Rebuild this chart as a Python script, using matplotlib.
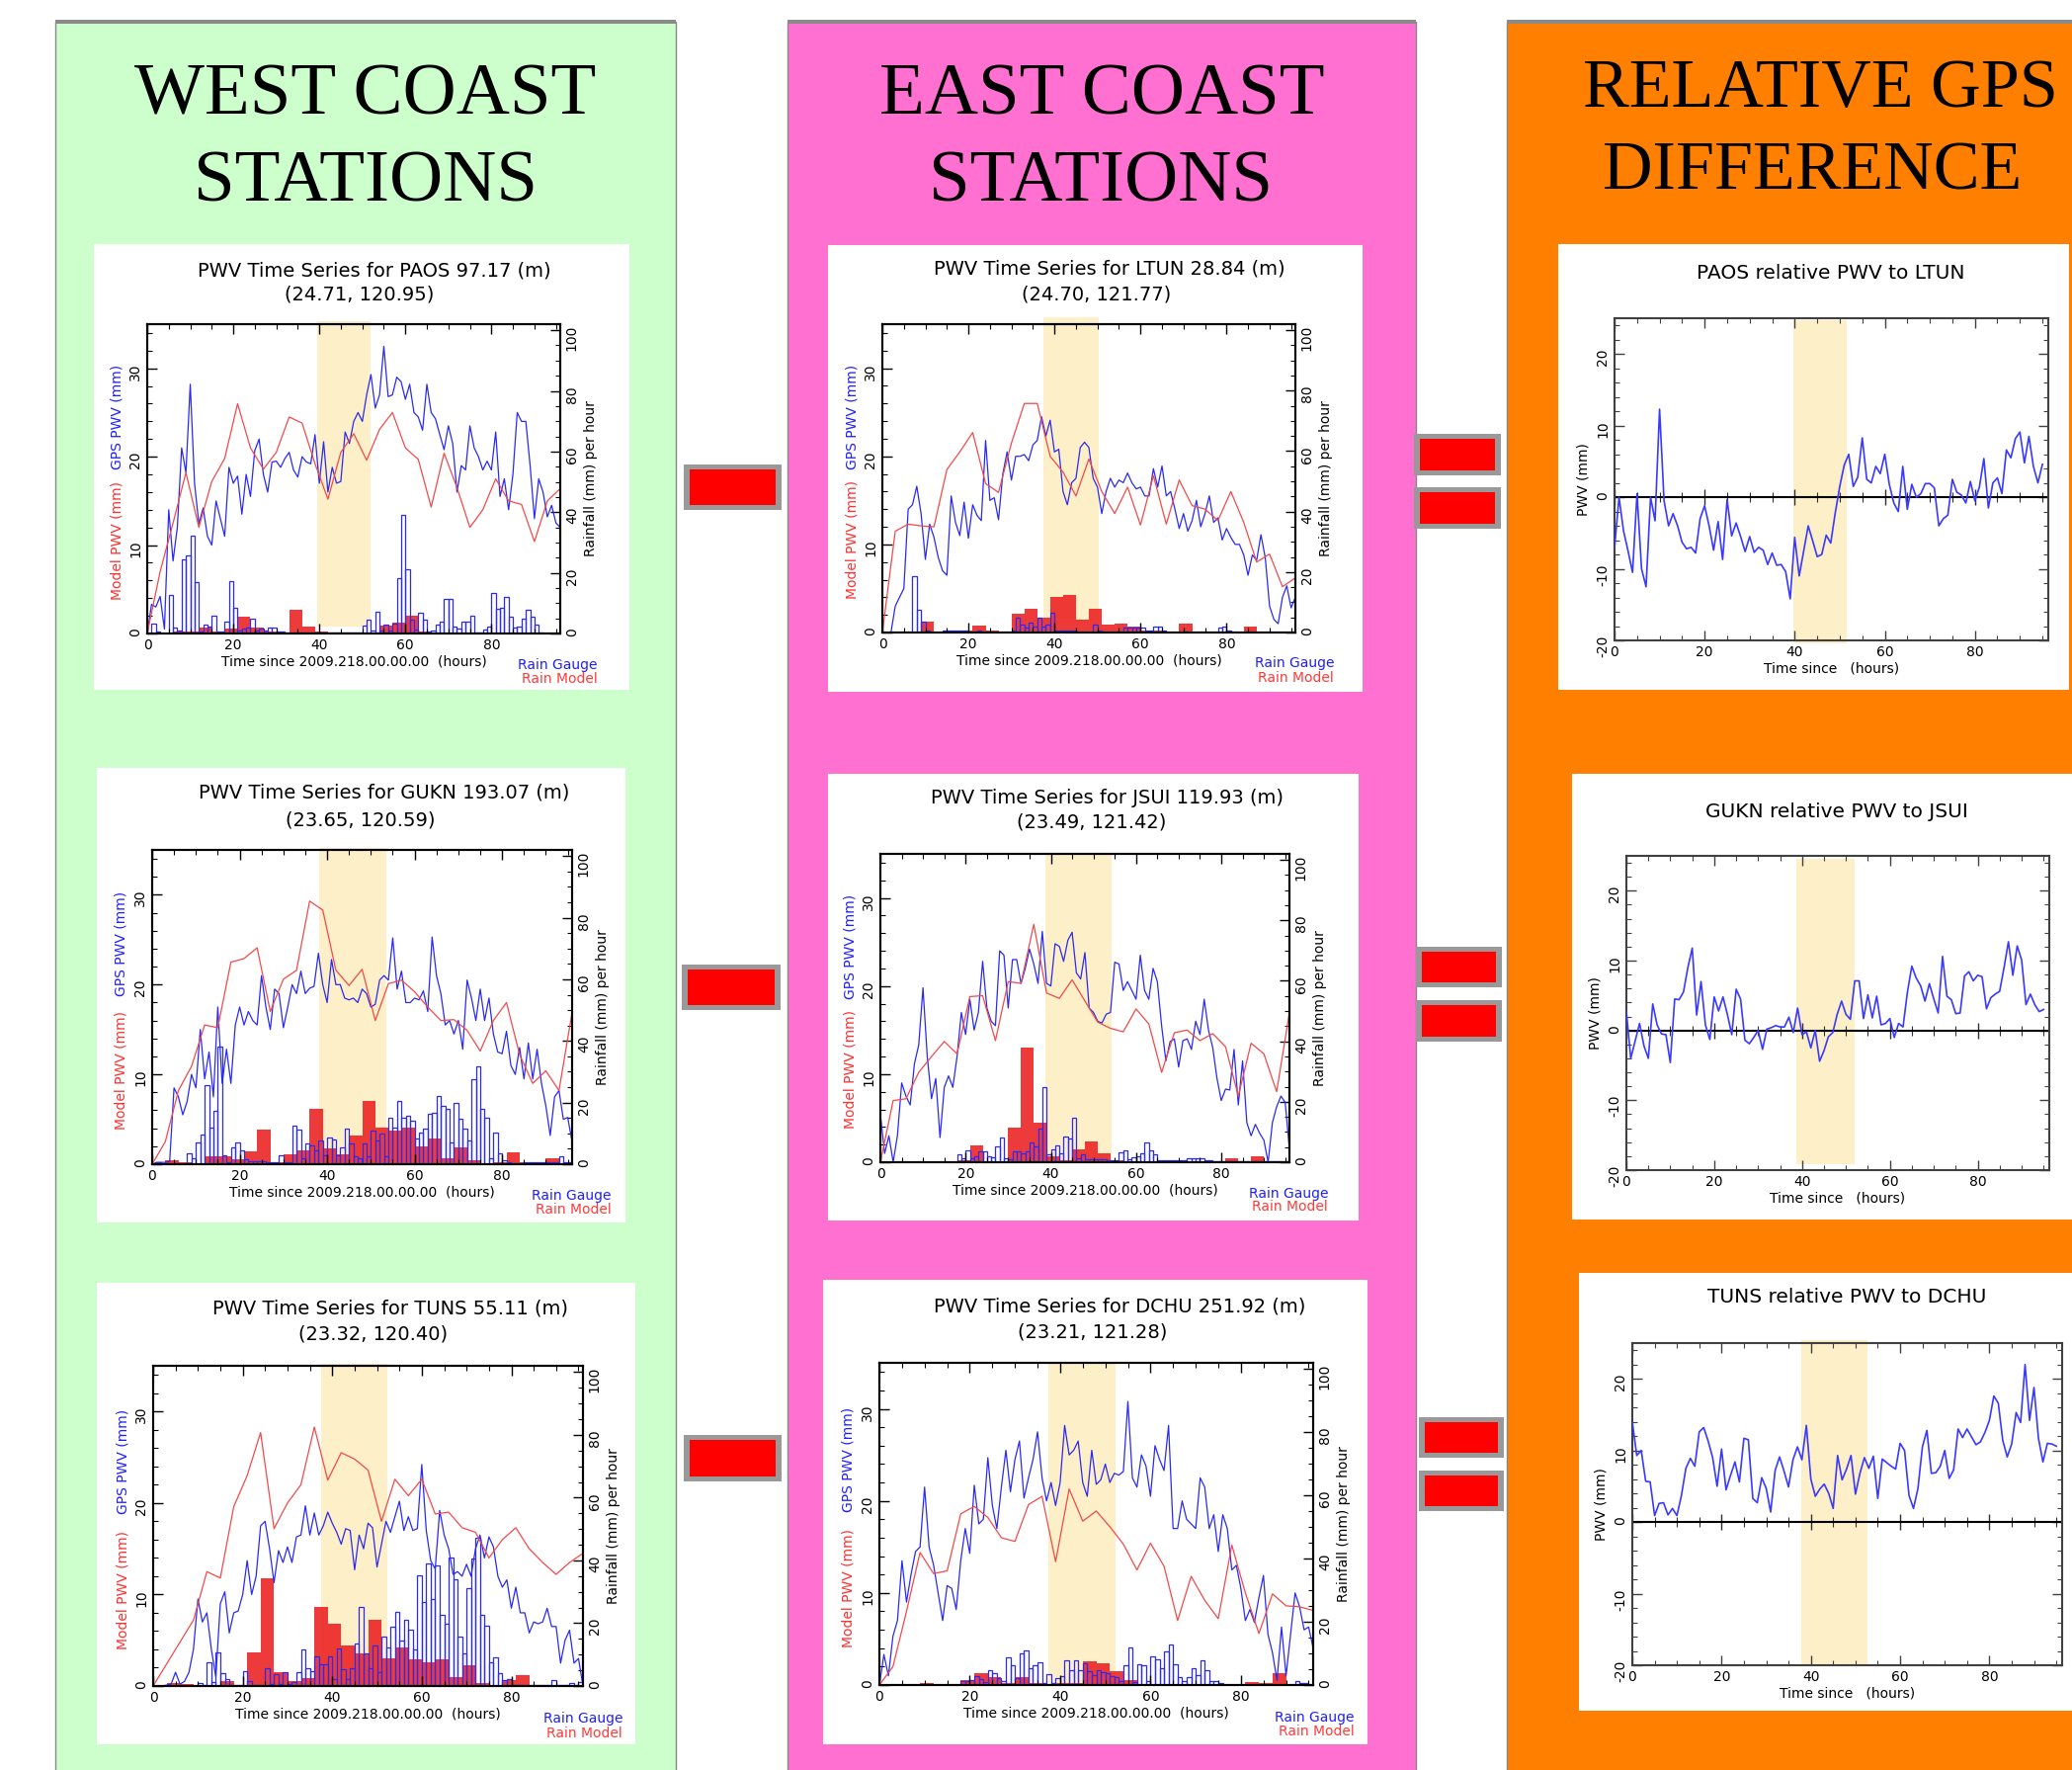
import numpy as np
import matplotlib
matplotlib.use("Agg")
import matplotlib.pyplot as plt
from matplotlib.patches import Rectangle
from matplotlib.ticker import MultipleLocator

plt.rcParams['axes.unicode_minus'] = False

W, H = 2097, 1791

# time axes (hours since 2009.218.00.00.00)
hours = np.arange(97)
model_hours = np.arange(0, 97, 3)
gauge_hours = np.arange(96)
rmodel_hours = np.arange(0, 96, 3)
rel_hours = np.arange(96)

# ---- PAOS ----
paos_gps = [0, 3.3, 3.0, 4.2, 0.5, 14.0, 8.2, 12.0, 21.0, 18.2,
            28.2, 17.0, 12.4, 14.2, 11.0, 10.0, 15.0, 13.0, 11.0, 18.8,
            17.0, 17.8, 13.5, 18.0, 15.5, 20.7, 22.0, 18.0, 16.0, 19.4,
            19.5, 18.8, 19.8, 20.5, 18.5, 17.7, 20.0, 19.4, 19.2, 22.5,
            17.0, 21.7, 16.0, 18.8, 17.0, 17.2, 22.8, 21.5, 24.0, 25.0,
            24.0, 27.0, 29.3, 25.5, 27.0, 32.5, 26.8, 27.0, 29.0, 28.5,
            26.5, 28.2, 25.0, 24.5, 23.0, 28.2, 25.0, 24.3, 22.5, 20.8,
            23.5, 21.5, 16.0, 19.0, 18.5, 23.5, 21.0, 20.0, 18.5, 19.5,
            18.5, 22.8, 15.5, 17.5, 14.0, 18.0, 25.0, 24.0, 24.0, 19.0,
            13.0, 17.5, 16.0, 13.2, 14.5, 12.5, 12.0]
paos_model = [0, 7.0, 12.5, 18.2, 12.0, 17.2, 19.8, 26.0, 21.0, 18.6, 20.5,
              24.5, 23.8, 19.2, 15.2, 20.5, 22.6, 19.6, 23.1, 25.0, 21.0, 19.7,
              14.3, 20.4, 16.5, 12.0, 14.0, 17.5, 15.0, 14.6, 10.4, 15.0, 16.4]
paos_gauge = [0, 3.3, 0.5, 0, 0, 12.8, 1.9, 1.0, 24.4, 25.8,
              32.4, 16.8, 0.5, 3.0, 2.4, 5.9, 0.5, 0.8, 4.0, 17.4,
              8.4, 1.0, 1.5, 2.0, 5.0, 1.0, 1.5, 1.0, 1.9, 1.9,
              0.5, 0.5, 0.3, 0, 0.2, 0.2, 0.2, 0.2, 0.2, 0.2,
              0.2, 0.2, 0.2, 0.2, 0.2, 0.2, 0.2, 0.2, 0.2, 0.2,
              2.6, 4.6, 1.0, 7.3, 1.0, 3.0, 1.0, 3.3, 18.2, 39.0,
              21.3, 4.6, 1.2, 6.8, 4.6, 0.5, 1.0, 3.0, 4.0, 11.3,
              11.5, 2.4, 1.5, 3.8, 4.0, 5.9, 0.3, 0.3, 1.3, 2.4,
              13.3, 8.0, 8.4, 12.2, 5.7, 2.0, 2.4, 4.8, 7.8, 5.4,
              3.0, 0.3, 0, 0, 0, 0]
paos_rmodel = [0, 0.3, 0.8, 0.8, 2.0, 0.8, 1.5, 5.4, 1.9, 0.5, 0.3, 7.8, 2.2, 0.7, 0.4, 0.4,
               0.4, 0.4, 2.6, 3.5, 5.9, 0.8, 0.2, 0.2, 0.2, 0.2, 0.2, 0.2, 0.2, 0.2, 0.2, 0.2]

# ---- GUKN ----
gukn_gps = [0, 0.2, 0.2, 0.2, 0.3, 8.5, 7.5, 5.5, 7.0, 10.0,
            8.5, 15.0, 9.5, 12.5, 7.5, 17.5, 9.0, 12.8, 9.0, 15.5,
            17.5, 15.5, 17.0, 16.0, 15.5, 21.0, 17.5, 15.0, 19.5, 19.0,
            15.2, 17.5, 20.0, 19.0, 21.5, 19.0, 19.6, 19.8, 23.5, 20.0,
            18.0, 22.8, 20.0, 20.0, 18.5, 18.3, 18.5, 18.0, 19.5, 19.0,
            17.5, 17.8, 20.5, 21.0, 20.5, 25.2, 19.5, 21.5, 18.0, 18.0,
            18.5, 18.3, 19.3, 17.0, 25.3, 21.0, 19.0, 15.5, 16.0, 14.5,
            16.0, 12.8, 20.5, 18.5, 16.0, 19.5, 16.0, 18.5, 14.5, 12.5,
            12.3, 14.8, 11.0, 10.0, 13.0, 9.5, 13.5, 9.5, 12.8, 9.0,
            6.5, 3.2, 7.5, 8.2, 5.0, 5.2, 2.5]
gukn_model = [0, 2.5, 8.2, 10.9, 15.5, 15.2, 22.5, 22.9, 24.1, 17.0, 20.6,
              21.6, 29.3, 28.3, 21.6, 19.9, 21.7, 16.0, 20.1, 20.5, 19.2, 17.5,
              16.0, 16.1, 14.9, 12.6, 16.0, 18.0, 12.2, 9.0, 10.4, 8.2, 16.9]
gukn_gauge = [0, 0.5, 0, 0, 0, 0.3, 0, 0, 3.5, 1.9,
              7.2, 9.6, 25.7, 12.0, 17.4, 38.2, 3.0, 0.5, 5.6, 7.2,
              4.6, 1.5, 1.0, 1.0, 1.0, 1.0, 0.5, 0.5, 0.5, 3.0,
              0.5, 0.5, 12.4, 11.3, 2.0, 6.7, 6.2, 4.6, 7.8, 3.0,
              8.6, 8.1, 3.0, 5.6, 11.5, 6.7, 2.5, 2.0, 6.7, 2.5,
              11.0, 7.8, 9.9, 2.5, 15.0, 12.0, 20.6, 15.0, 15.8, 14.2,
              8.3, 10.4, 11.5, 16.5, 16.8, 22.0, 19.0, 17.9, 7.2, 20.0,
              14.7, 11.5, 7.8, 27.5, 31.8, 17.9, 15.0, 2.0, 10.2, 3.5,
              1.4, 0.5, 0.3, 0.3, 0.3, 0.5, 0.5, 0.5, 0.5, 0.5,
              0.5, 0.5, 0.5, 2.7, 0.5, 0.5]
gukn_rmodel = [0, 1.2, 0.5, 0.3, 2.5, 2.7, 1.5, 4.3, 11.2, 0.8, 3.2, 4.6, 17.9, 5.1, 3.2, 9.2,
               20.6, 12.0, 11.0, 11.8, 5.9, 8.2, 1.9, 5.4, 1.2, 0.3, 0.5, 3.8, 0.6, 0.3, 1.8, 0.3]

# ---- TUNS ----
tuns_gps = [0, 0, 0, 0.1, 0.2, 1.5, 0.2, 0.5, 1.5, 4.0,
            9.5, 7.0, 8.0, 4.0, 1.0, 9.0, 10.3, 5.8, 8.0, 8.2,
            10.0, 13.7, 10.0, 12.0, 17.5, 18.0, 15.0, 11.3, 14.8, 13.5,
            15.2, 13.5, 16.3, 16.5, 19.7, 16.5, 18.9, 16.5, 17.5, 19.0,
            17.8, 16.8, 15.5, 17.2, 17.0, 12.7, 16.5, 15.0, 17.8, 17.3,
            13.0, 15.5, 18.0, 16.8, 18.5, 20.2, 17.0, 18.5, 17.0, 17.2,
            24.2, 17.0, 13.7, 12.8, 19.2, 16.5, 15.0, 12.2, 12.5, 12.0,
            13.3, 12.0, 15.0, 16.5, 14.0, 16.3, 15.2, 12.0, 10.8, 11.6,
            8.5, 10.8, 8.0, 8.0, 5.8, 7.0, 6.8, 7.0, 8.5, 6.5,
            6.5, 2.5, 5.0, 6.1, 2.5, 3.0, 0.0]
tuns_model = [0, 2.4, 4.8, 7.2, 12.5, 11.8, 19.6, 23.0, 27.7, 17.2, 20.0,
              22.0, 28.3, 22.5, 25.5, 24.8, 23.6, 18.0, 22.6, 20.8, 22.6, 18.8,
              19.0, 17.3, 16.8, 14.0, 16.0, 17.3, 15.0, 13.5, 12.2, 13.5, 14.5]
tuns_gauge = [0, 0, 0, 0, 0, 0, 0, 0, 0, 0,
              1.0, 0.3, 7.4, 1.2, 10.6, 4.1, 2.3, 0.3, 0.2, 0.2,
              4.8, 1.7, 0.3, 0.3, 0.3, 5.8, 0.5, 3.8, 0.5, 4.5,
              0.5, 1.4, 4.5, 11.7, 5.8, 4.8, 9.4, 6.9, 6.9, 9.4,
              2.3, 12.0, 5.3, 2.3, 5.8, 13.5, 25.3, 10.4, 5.8, 13.0,
              4.3, 15.8, 12.3, 18.8, 23.5, 14.5, 21.2, 18.1, 11.5, 35.2,
              26.8, 39.1, 27.6, 38.3, 22.7, 19.7, 40.9, 34.0, 15.8, 10.4,
              31.1, 40.6, 47.3, 22.7, 19.1, 7.4, 9.2, 4.1, 2.0, 2.3,
              0.3, 0.2, 0.2, 0.2, 0.2, 0.2, 0.2, 0.2, 0.2, 2.0,
              0.2, 0.2, 0.2, 1.0, 0.2, 1.2]
tuns_rmodel = [0, 1.0, 0.7, 0.2, 0.2, 1.6, 0.2, 10.7, 34.2, 4.3, 1.7, 2.4, 25.3, 19.7, 13.0, 10.4,
               21.2, 8.9, 12.3, 8.6, 7.7, 8.4, 2.8, 6.6, 1.0, 0.3, 2.0, 3.6, 0.3, 0.1, 0.3, 0.3]

# ---- LTUN ----
ltun_gps = [0, 0, 0, 3.0, 4.0, 5.0, 14.0, 14.5, 16.6, 13.5,
            8.3, 12.3, 10.8, 8.5, 7.0, 6.5, 15.5, 12.5, 11.0, 14.8,
            10.7, 14.5, 13.3, 12.7, 21.8, 15.0, 15.3, 12.8, 18.0, 20.5,
            17.3, 20.0, 20.0, 20.2, 19.5, 21.3, 21.8, 24.5, 22.3, 24.1,
            20.5, 20.8, 16.0, 14.5, 17.0, 17.5, 21.0, 21.6, 21.0, 17.5,
            16.5, 13.5, 16.0, 17.5, 16.5, 17.3, 17.0, 18.1, 17.0, 16.3,
            16.5, 15.5, 15.5, 18.6, 16.5, 18.9, 15.5, 16.0, 14.0, 11.8,
            13.5, 11.5, 12.7, 15.0, 12.0, 13.5, 15.5, 12.5, 13.0, 10.5,
            11.8, 10.8, 10.0, 10.0, 8.8, 6.5, 8.8, 8.2, 11.1, 8.5,
            3.0, 1.5, 1.0, 4.0, 5.3, 2.8, 4.0]
ltun_model = [0, 11.5, 12.3, 12.1, 12.0, 18.5, 20.5, 22.7, 16.9, 15.9, 21.5,
              26.0, 26.0, 20.0, 18.2, 15.5, 19.7, 16.0, 13.5, 16.5, 12.2, 17.8,
              12.3, 17.3, 14.4, 14.0, 12.7, 16.0, 12.5, 8.0, 8.9, 5.2, 6.2]
ltun_gauge = [0, 0, 0, 0, 0, 0, 0, 18.7, 7.5, 3.75,
              0.7, 0, 0, 0, 0.5, 0.5, 0.5, 0.5, 0.5, 0.5,
              0, 0, 0.7, 0, 0, 0, 0, 0, 0, 0,
              0.5, 4.8, 2.7, 1.6, 3.2, 2.1, 4.8, 2.1, 2.7, 6.6,
              0.5, 0.5, 0.5, 0.5, 0.5, 0, 0, 0, 0, 2.5,
              0.5, 0, 0, 0, 0, 0, 1.5, 1.5, 1.5, 1.5,
              1.5, 0.5, 0.5, 1.8, 2.1, 0.5, 0, 0, 0, 0,
              0, 0, 0, 0, 0, 0, 0, 0, 1.6, 2.1,
              0.5, 0, 0, 0, 0, 0, 0, 0, 0, 0,
              0, 0, 0, 0, 0, 0]
ltun_rmodel = [0, 0.1, 0.2, 3.75, 0.3, 0.6, 0.8, 2.4, 0.6, 0.3, 6.1, 7.7, 4.8, 11.8, 12.3, 4.3,
               7.8, 2.6, 3.1, 1.8, 0.8, 0.8, 0.4, 2.9, 0.3, 0.3, 0.3, 0.4, 1.9, 0.2, 0.2, 0.2]

# ---- JSUI ----
jsui_gps = [5.4, 1.0, 3.0, 0.0, 3.0, 9.0, 7.5, 6.5, 11.2, 13.3,
            19.8, 12.0, 7.2, 9.5, 2.8, 8.5, 9.8, 8.5, 12.0, 17.0,
            14.5, 18.5, 15.0, 17.0, 22.8, 17.5, 16.0, 15.5, 24.0, 23.5,
            17.5, 23.0, 23.0, 20.3, 22.0, 24.2, 22.5, 20.3, 26.2, 20.3,
            20.0, 24.8, 24.5, 22.8, 25.2, 26.1, 21.5, 20.8, 23.8, 17.5,
            17.0, 16.0, 15.8, 16.8, 17.0, 22.7, 22.5, 19.5, 20.5, 19.5,
            18.5, 23.5, 19.5, 18.5, 22.0, 20.5, 15.5, 11.5, 13.7, 14.0,
            10.8, 13.8, 14.0, 12.8, 16.0, 14.5, 18.5, 15.0, 13.0, 9.5,
            7.0, 8.3, 8.2, 12.8, 6.5, 11.5, 4.5, 3.0, 4.3, 3.3,
            2.5, 0.0, 4.5, 6.3, 7.5, 6.8, 1.5]
jsui_model = [0, 7.0, 7.2, 10.2, 12.0, 13.7, 12.3, 18.8, 18.9, 13.8, 20.5,
              20.3, 27.0, 19.2, 18.6, 20.7, 18.3, 15.9, 15.2, 14.8, 17.4, 15.7,
              10.2, 14.7, 15.0, 13.8, 14.6, 13.1, 7.5, 13.5, 12.3, 8.0, 17.0]
jsui_gauge = [0, 0, 0, 0, 0, 0, 0, 0, 0, 0,
              0, 0, 0, 0, 0, 0, 0, 0, 2.5, 1.4,
              4.0, 1.4, 2.0, 3.5, 3.5, 2.0, 1.7, 5.1, 8.3, 1.4,
              0.9, 3.5, 3.5, 3.0, 3.7, 6.7, 5.1, 11.2, 24.9, 2.5,
              4.1, 5.7, 3.0, 8.5, 7.8, 14.7, 1.4, 2.5, 1.0, 1.0,
              1.0, 1.0, 1.0, 0.5, 0.5, 0.5, 3.2, 3.8, 0.9, 1.7,
              2.1, 3.0, 6.4, 4.0, 2.5, 0.8, 0.8, 0.8, 0.8, 0.8,
              0.8, 0.8, 1.2, 1.2, 1.2, 1.2, 0.8, 0.8, 0.3, 0.3,
              0.3, 0.3, 0.3, 0.3, 0.3, 0.3, 0.3, 0.3, 0.3, 0.3,
              0.3, 0.3, 0.3, 0.3, 0.3, 0.3]
jsui_rmodel = [0.3, 0.2, 0.1, 0.1, 0.1, 0.1, 0.5, 5.6, 0.3, 0.3, 11.4, 38.0, 13.1, 1.8, 0.5, 4.3,
               7.0, 2.8, 0.8, 0.3, 0.3, 0.3, 0.3, 0.3, 0.3, 0.3, 0.3, 1.3, 0.3, 1.8, 0.3, 0.3]

# ---- DCHU ----
dchu_gps = [0, 3.3, 1.0, 5.3, 7.0, 13.5, 9.0, 12.0, 14.5, 15.0,
            21.5, 15.0, 13.0, 10.0, 7.0, 10.8, 10.5, 8.2, 13.5, 17.0,
            14.3, 21.7, 17.5, 18.0, 24.7, 19.5, 17.0, 21.5, 25.5, 21.0,
            24.5, 26.5, 20.3, 22.5, 24.5, 27.5, 22.5, 20.0, 22.0, 19.5,
            22.0, 28.2, 25.0, 25.5, 26.5, 22.0, 20.5, 25.5, 21.8, 22.3,
            24.0, 22.0, 23.0, 22.8, 23.2, 30.8, 22.5, 21.5, 25.0, 23.8,
            20.5, 26.0, 24.5, 23.3, 28.2, 17.0, 17.0, 20.0, 18.0, 17.5,
            17.0, 22.5, 21.5, 17.0, 18.5, 14.5, 18.5, 17.0, 12.5, 13.0,
            10.5, 7.0, 8.2, 6.8, 9.5, 11.9, 5.5, 3.5, 0.5, 6.3,
            1.0, 5.5, 10.0, 8.5, 6.0, 6.3, 4.0]
dchu_model = [0, 2.0, 8.0, 14.4, 12.1, 12.4, 18.6, 19.4, 18.2, 16.0, 15.6,
              19.6, 20.5, 13.4, 21.3, 17.8, 18.9, 17.2, 15.3, 12.5, 15.4, 12.9,
              7.0, 11.8, 9.2, 7.2, 15.2, 10.0, 5.6, 9.9, 8.6, 8.5, 8.1]
dchu_gauge = [0, 0, 0, 0, 0, 0, 0, 0, 0, 0,
              0, 0, 0, 0, 0, 0, 0, 0, 1.1, 1.4,
              1.6, 2.9, 1.9, 0.8, 4.8, 3.8, 2.2, 1.4, 8.8, 6.4,
              2.2, 10.0, 11.0, 5.3, 6.4, 7.1, 0.6, 3.5, 0.6, 2.3,
              2.7, 7.7, 4.8, 7.7, 4.8, 6.9, 4.5, 3.2, 4.8, 4.0,
              3.8, 2.9, 2.5, 1.4, 6.4, 11.8, 0.8, 6.6, 6.4, 1.1,
              9.0, 8.2, 5.3, 10.6, 12.7, 6.6, 2.5, 1.4, 2.5, 5.3,
              3.2, 7.7, 4.8, 1.4, 1.4, 0.6, 0, 0, 0, 0,
              0, 0, 0, 0, 0, 0, 0, 0, 0, 0,
              0, 0, 1.1, 0.6, 0.6, 0]
dchu_rmodel = [0, 0, 0.1, 0.7, 0.3, 0.3, 1.5, 3.8, 2.4, 0.7, 2.5, 0.5, 0.3, 0.7, 0.5, 7.4,
               6.9, 4.4, 1.5, 0.3, 0.3, 0.3, 0.2, 0.2, 0.2, 0.2, 0.3, 1.0, 0.5, 3.6, 0.3, 0.3]

# ---- relative PWV (west minus east) ----
paos_ltun = [-7.1, 0.0, -4.7, -7.5, -10.5, 0.5, -10.0, -12.5, 0.0, -3.3,
             12.3, -0.5, -4.0, -2.3, -4.0, -6.3, -7.2, -7.0, -7.8, -3.0,
             -1.2, -4.0, -7.4, -3.4, -8.7, -0.3, -5.4, -3.6, -5.5, -7.6,
             -5.5, -7.7, -7.0, -7.4, -9.4, -7.8, -9.5, -9.4, -10.4, -14.2,
             -5.6, -11.0, -7.5, -4.0, -6.1, -8.3, -8.0, -5.3, -6.4, -2.2,
             1.5, 4.5, 6.0, 1.5, 2.8, 8.3, 2.5, 2.0, 4.3, 3.3,
             6.0, 1.8, -0.8, -2.0, 4.3, -1.7, 1.8, 0.0, 0.5, 1.9,
             1.9, 1.3, -4.0, -3.0, -2.5, 2.5, 0.7, 0.3, -0.8, 2.2,
             -0.5, 1.4, 5.4, -1.5, 2.0, 2.7, 0.5, 6.6, 5.5, 8.2,
             9.1, 4.8, 8.5, 4.3, 2.0, 4.6]
gukn_jsui = [2.7, -4.0, -1.5, 1.0, -2.2, -4.0, 3.8, 0.8, -0.5, -0.6,
             -4.6, 4.5, 4.4, 5.5, 9.0, 11.8, 2.2, 7.0, 0.8, -1.3,
             4.8, 2.8, 4.8, 2.3, -0.6, 5.9, 4.5, -1.4, -1.9, -1.0,
             0.0, -2.7, 0.2, 0.4, 0.7, 0.5, 0.5, 1.9, -0.3, 3.2,
             -0.6, -0.2, -2.5, 0.0, -4.4, -2.9, -0.9, -0.3, 2.3, 4.2,
             2.3, 1.6, 7.1, 7.1, 1.7, 5.1, 1.8, 4.9, 0.8, 1.0,
             1.7, -1.0, 1.0, 0.5, 5.5, 9.2, 7.5, 6.4, 4.2, 6.7,
             4.5, 2.5, 10.6, 4.9, 4.4, 2.4, 2.5, 7.8, 8.4, 7.1,
             7.9, 7.7, 3.1, 4.7, 5.2, 5.6, 9.0, 12.7, 7.9, 12.1,
             10.1, 3.7, 5.2, 3.7, 2.7, 3.0]
tuns_dchu = [14.0, 9.3, 10.0, 5.7, 5.6, 0.9, 2.6, 2.7, 1.0, 1.9,
             0.9, 3.7, 7.5, 8.9, 7.8, 12.6, 13.2, 11.3, 9.0, 5.0,
             10.2, 4.5, 6.5, 8.4, 5.6, 11.7, 11.5, 3.3, 2.7, 6.2,
             4.7, 1.4, 7.2, 9.1, 7.1, 4.9, 8.7, 10.5, 8.7, 13.5,
             6.0, 3.6, 4.6, 5.3, 4.0, 1.9, 9.3, 5.9, 7.4, 9.3,
             3.9, 6.8, 9.0, 7.5, 9.2, 3.3, 8.8, 8.3, 7.8, 7.4,
             11.0, 10.0, 3.7, 1.9, 4.7, 10.5, 12.8, 6.8, 6.9, 7.8,
             10.0, 6.1, 7.3, 13.0, 11.8, 13.0, 11.9, 10.8, 11.2, 12.5,
             14.2, 17.6, 16.6, 11.4, 9.1, 10.9, 15.3, 13.9, 22.0, 14.2,
             18.8, 11.7, 8.4, 11.0, 10.9, 10.6]

# highlighted event windows (hours)
paos_band, gukn_band, tuns_band = (39.4, 51.9), (38.1, 53.5), (37.6, 52.4)
ltun_band, jsui_band, dchu_band = (37.5, 50.2), (38.7, 54.3), (37.4, 52.2)
rel1_band, rel2_band, rel3_band = (39.6, 51.5), (38.6, 52.0), (37.8, 52.7)

BLUE = '#2a2af2'
RED = '#f24a4a'
BAR_RED = '#ec2424'
BAND = '#fdefc8'

fig = plt.figure(figsize=(W / 100, H / 100), dpi=100)


def fbox(x0, y0, x1, y1):
    return [x0 / W, 1 - y1 / H, (x1 - x0) / W, (y1 - y0) / H]


def rect(x0, y0, x1, y1, **kw):
    fig.add_artist(Rectangle((x0 / W, 1 - y1 / H), (x1 - x0) / W, (y1 - y0) / H,
                             transform=fig.transFigure, **kw))


def ftext(x, y, s, **kw):
    kw.setdefault('ha', 'center')
    kw.setdefault('va', 'baseline')
    fig.text(x / W, 1 - y / H, s, **kw)


# column backgrounds
for x0, x1, col in [(56, 684, '#ccffcc'), (797, 1433, '#ff70d0'), (1525, 2120, '#ff8000')]:
    rect(x0, 22, x1, 1820, facecolor=col, edgecolor='#888888', lw=1, zorder=-10)
    rect(x0, 20, x1, 24, facecolor='#8a8a8a', lw=0, zorder=-9)

serif = 'Liberation Serif'
ftext(370, 115, 'WEST COAST', family=serif, fontsize=54)
ftext(370, 203, 'STATIONS', family=serif, fontsize=54)
ftext(1115, 115, 'EAST COAST', family=serif, fontsize=54)
ftext(1114, 203, 'STATIONS', family=serif, fontsize=54)
ftext(1842, 108, 'RELATIVE GPS', family=serif, fontsize=50.5)
ftext(1834, 192, 'DIFFERENCE', family=serif, fontsize=50.5)

# white panel boxes
for b in [(95, 247, 637, 698), (98, 777, 633, 1237), (98, 1298, 643, 1765),
          (838, 248, 1379, 700), (838, 783, 1375, 1235), (833, 1295, 1384, 1765),
          (1577, 247, 2094, 698), (1591, 783, 2097, 1234), (1598, 1288, 2097, 1731)]:
    rect(*b, facecolor='white', lw=0, zorder=-8)

# red markers
for b in [(692, 470, 791, 516), (690, 976, 790, 1022), (692, 1452, 791, 1499),
          (1431, 439, 1519, 481), (1431, 493, 1519, 535),
          (1433, 958, 1520, 999), (1433, 1012, 1520, 1054),
          (1436, 1434, 1522, 1475), (1436, 1488, 1522, 1529)]:
    rect(*b, facecolor='#999999', lw=0, zorder=-7)
    rect(b[0] + 6, b[1] + 5, b[2] - 6, b[3] - 5, facecolor='#ff0000', lw=0, zorder=-6)


def station(axpx, gps, model, gauge, rmodel, band, bfrac, t1, t2, leg):
    ax = fig.add_axes(fbox(*axpx))
    ax2 = ax.twinx()
    ax.set_zorder(ax2.get_zorder() + 1)
    ax.patch.set_visible(False)
    ax2.axvspan(band[0], band[1], bfrac[0], bfrac[1], color=BAND, lw=0, zorder=0, clip_on=False)
    ax2.bar(rmodel_hours, rmodel, width=3, align='edge', color=BAR_RED, alpha=0.9, lw=0, zorder=1)
    ax2.bar(gauge_hours, gauge, width=1, align='edge', fill=False, edgecolor=BLUE, lw=0.9, zorder=2)
    ax.plot(hours, gps, color=BLUE, lw=0.9)
    ax.plot(model_hours, model, color=RED, lw=0.9)
    ax.set_xlim(0, 96)
    ax.set_ylim(0, 35)
    ax2.set_ylim(0, 102)
    ax.xaxis.set_major_locator(MultipleLocator(20))
    ax.xaxis.set_minor_locator(MultipleLocator(5))
    ax.yaxis.set_major_locator(MultipleLocator(10))
    ax.yaxis.set_minor_locator(MultipleLocator(2))
    ax2.yaxis.set_major_locator(MultipleLocator(20))
    ax2.yaxis.set_minor_locator(MultipleLocator(5))
    ax.tick_params(which='both', direction='in', top=True, labelsize=10)
    ax.tick_params(axis='y', labelrotation=90)
    ax2.tick_params(which='both', direction='in', labelsize=10, labelrotation=90)
    for a in (ax, ax2):
        a.tick_params(which='major', length=7, width=1)
        a.tick_params(which='minor', length=3.5, width=0.8)
        for s in a.spines.values():
            s.set_linewidth(1.5)
    ax.set_xlabel('Time since 2009.218.00.00.00  (hours)', fontsize=10, labelpad=2)
    ax2.set_ylabel('Rainfall (mm) per hour', fontsize=10, labelpad=4)
    off = -31 / (axpx[2] - axpx[0])
    ax.text(off, 0.30, 'Model PWV (mm)', color='#ff3030', rotation=90, fontsize=10,
            ha='center', va='center', transform=ax.transAxes)
    ax.text(off, 0.70, 'GPS PWV (mm)', color='#2020ff', rotation=90, fontsize=10,
            ha='center', va='center', transform=ax.transAxes)
    ftext(t1[0], t1[1], t1[2], fontsize=14)
    ftext(t2[0], t2[1], t2[2], fontsize=14)
    ftext(leg[0], leg[1], 'Rain Gauge', color='#2020ff', fontsize=10, ha='right')
    ftext(leg[0], leg[2], 'Rain Model', color='#ff3a3a', fontsize=10, ha='right')


def relative(axpx, vals, band, bfrac, title):
    ax = fig.add_axes(fbox(*axpx))
    ax.axvspan(band[0], band[1], bfrac[0], bfrac[1], color=BAND, lw=0, zorder=0, clip_on=False)
    ax.axhline(0, color='black', lw=1.5, zorder=2)
    ax.plot(rel_hours, vals, color='#3a3aff', lw=1.2, zorder=3)
    ax.set_xlim(0, 96.3)
    ax.set_ylim(-20, 25)
    ax.xaxis.set_major_locator(MultipleLocator(20))
    ax.xaxis.set_minor_locator(MultipleLocator(5))
    ax.yaxis.set_major_locator(MultipleLocator(10))
    ax.yaxis.set_minor_locator(MultipleLocator(2))
    ax.tick_params(which='both', direction='in', top=True, right=True, labelsize=10,
                   color='#404040')
    ax.tick_params(axis='y', labelrotation=90)
    ax.tick_params(which='major', length=7, width=1)
    ax.tick_params(which='minor', length=3.5, width=0.8)
    for s in ax.spines.values():
        s.set_linewidth(1.5)
        s.set_color('#404040')
    zero = ax.secondary_xaxis(20 / 45)
    zero.xaxis.set_major_locator(MultipleLocator(20))
    zero.xaxis.set_minor_locator(MultipleLocator(5))
    zero.tick_params(which='both', direction='inout', labelbottom=False, labeltop=False,
                     color='#303030')
    zero.tick_params(which='major', length=12, width=1)
    zero.tick_params(which='minor', length=7, width=0.8)
    for s in zero.spines.values():
        s.set_visible(False)
    ax.set_xlabel('Time since   (hours)', fontsize=10, labelpad=2)
    ax.set_ylabel('PWV (mm)', fontsize=10)
    ftext(title[0], title[1], title[2], fontsize=14.5)


station((149, 328, 567, 641), paos_gps, paos_model, paos_gauge, paos_rmodel,
        paos_band, (0.023, 1.01),
        (379, 279, 'PWV Time Series for PAOS 97.17 (m)'), (364, 303, '(24.71, 120.95)'),
        (605, 677, 691))
station((154, 860, 579, 1178), gukn_gps, gukn_model, gukn_gauge, gukn_rmodel,
        gukn_band, (0.0, 1.005),
        (389, 808, 'PWV Time Series for GUKN 193.07 (m)'), (365, 835, '(23.65, 120.59)'),
        (619, 1214, 1228))
station((155, 1382, 590, 1706), tuns_gps, tuns_model, tuns_gauge, tuns_rmodel,
        tuns_band, (0.0, 1.005),
        (395, 1330, 'PWV Time Series for TUNS 55.11 (m)'), (378, 1356, '(23.32, 120.40)'),
        (630, 1743, 1758))
station((893, 328, 1311, 640), ltun_gps, ltun_model, ltun_gauge, ltun_rmodel,
        ltun_band, (0.03, 1.022),
        (1123, 278, 'PWV Time Series for LTUN 28.84 (m)'), (1110, 303, '(24.70, 121.77)'),
        (1350, 675, 690))
station((891, 864, 1305, 1176), jsui_gps, jsui_model, jsui_gauge, jsui_rmodel,
        jsui_band, (0.0, 1.004),
        (1120, 813, 'PWV Time Series for JSUI 119.93 (m)'), (1105, 838, '(23.49, 121.42)'),
        (1344, 1212, 1225))
station((890, 1379, 1329, 1705), dchu_gps, dchu_model, dchu_gauge, dchu_rmodel,
        dchu_band, (0.0, 1.0),
        (1133, 1327, 'PWV Time Series for DCHU 251.92 (m)'), (1106, 1353, '(23.21, 121.28)'),
        (1371, 1742, 1756))

relative((1634, 322, 2073, 648), paos_ltun, rel1_band, (-0.01, 0.995),
         (1853, 282, 'PAOS relative PWV to LTUN'))
relative((1646, 866, 2074, 1184), gukn_jsui, rel2_band, (0.02, 0.99),
         (1859, 827, 'GUKN relative PWV to JSUI'))
relative((1652, 1359, 2087, 1685), tuns_dchu, rel3_band, (0.0, 1.01),
         (1869, 1318, 'TUNS relative PWV to DCHU'))

fig.savefig('out.png', dpi=100)
